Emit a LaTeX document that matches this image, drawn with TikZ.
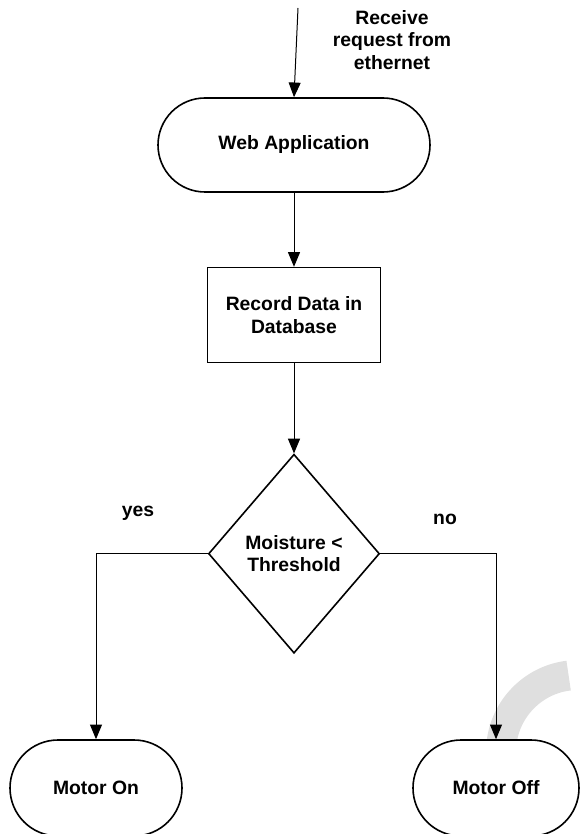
\documentclass[tikz,border=0pt]{standalone}
\usepackage{fontspec}
\setmainfont{Liberation Sans}
\usepackage{tikz}
\usetikzlibrary{positioning, arrows.meta, shapes.geometric}

\begin{document}
\begin{tikzpicture}[
  x=0.75pt, y=-0.75pt,
  term/.style={draw, fill=white, line width=1.2pt, rounded corners=35.25pt, align=center, minimum height=70.5pt},
  proc/.style={draw, fill=white, line width=1.2pt, align=center, minimum width=129.75pt, minimum height=71.25pt},
  decide/.style={draw, fill=white, diamond, line width=1.2pt, align=center, inner sep=0pt, minimum width=128.25pt, minimum height=149.25pt},
  arrow/.style={-{Triangle[length=11pt, width=9pt]}, line width=0.75pt},
  every node/.style={font=\bfseries\fontsize{14.5}{17}\selectfont}
]
\useasboundingbox (0,0) rectangle (581,834);

% light grey band behind the lower right corner
\draw[gray!25, line width=22.5pt] (578,752) ++(175:77) arc[start angle=175, end angle=263, radius=77];

\node[term, minimum width=204pt] (web) at (294,145) {Web Application};
\node[proc, below=55.5pt of web] (record) {Record Data in\\Database};
\node[decide, below=67.5pt of record] (decision) {Moisture <\\Threshold};

\node[term, minimum width=129pt, minimum height=72pt, rounded corners=36pt] (motoron) at (96,788) {Motor On};
\node[term, minimum width=124.5pt, minimum height=72pt, rounded corners=36pt] (motoroff) at (496,788) {Motor Off};

\coordinate (request) at (298,8);
\node[align=center] (reqlabel) at (392,40) {Receive\\request from\\ethernet};

\draw[arrow] (request) -- (web.north);
\draw[arrow] (web) -- (record);
\draw[arrow] (record) -- (decision);
\draw[arrow] (decision.west) -| (motoron.north);
\draw[arrow] (decision.east) -| (motoroff.north);

\node (yes) at (138,513) {yes};
\node (no) at (445,519) {no};

\end{tikzpicture}
\end{document}
